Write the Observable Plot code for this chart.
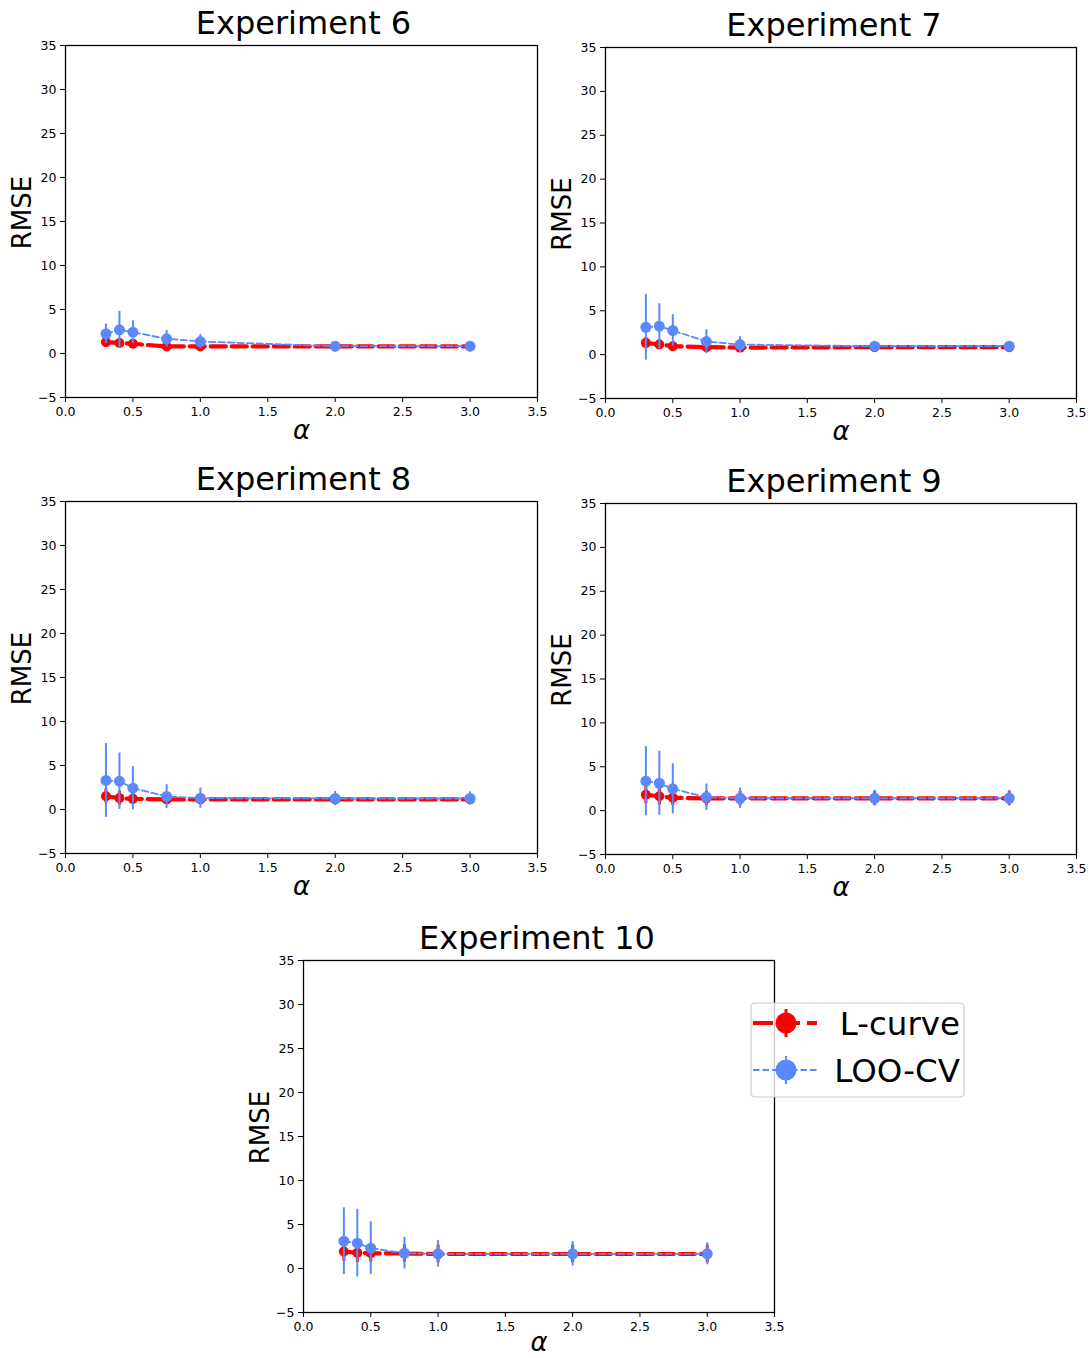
<!DOCTYPE html>
<html><head><meta charset="utf-8">
<script src="https://cdn.jsdelivr.net/npm/d3@7"></script>
<script src="https://cdn.jsdelivr.net/npm/@observablehq/plot@0.6"></script>
<style>
body{margin:0;background:#fff;font-family:"DejaVu Sans",sans-serif}
#wrap{position:relative;width:1090px;height:1358px;overflow:hidden;background:#fff}
#wrap > svg, #wrap > div{position:absolute}
</style>
</head><body><div id="wrap"></div>
<script>
// ---- data ----
const alphas = [0.3, 0.4, 0.5, 0.75, 1.0, 2.0, 3.0];
const titles = ["Experiment 6", "Experiment 7", "Experiment 8", "Experiment 9", "Experiment 10"];
const xTicks = [0, 0.5, 1, 1.5, 2, 2.5, 3, 3.5];
const yTicks = [-5, 0, 5, 10, 15, 20, 25, 30, 35];
const seriesNames = ["L-curve", "LOO-CV"];

const lcurveMean = [
  [1.29, 1.20, 1.10, 0.80, 0.80, 0.80, 0.80],
  [1.34, 1.15, 0.96, 0.85, 0.80, 0.85, 0.85],
  [1.51, 1.29, 1.21, 1.14, 1.14, 1.14, 1.14],
  [1.80, 1.64, 1.46, 1.40, 1.40, 1.40, 1.40],
  [1.93, 1.78, 1.74, 1.70, 1.65, 1.65, 1.65]
];
const lcurveErr = [
  [0.30, 0.30, 0.25, 0.25, 0.20, 0.15, 0.15],
  [0.60, 0.50, 0.40, 0.45, 0.40, 0.30, 0.30],
  [0.80, 0.80, 0.60, 0.50, 0.50, 0.50, 0.50],
  [1.00, 1.00, 0.90, 0.80, 0.80, 0.80, 0.80],
  [1.10, 1.10, 1.00, 1.00, 1.00, 1.00, 1.00]
];
const looMean = [
  [2.24, 2.69, 2.42, 1.67, 1.36, 0.83, 0.83],
  [3.12, 3.24, 2.75, 1.49, 1.15, 0.96, 0.96],
  [3.30, 3.22, 2.42, 1.48, 1.29, 1.25, 1.25],
  [3.35, 3.12, 2.48, 1.53, 1.41, 1.41, 1.41],
  [3.10, 2.88, 2.31, 1.74, 1.67, 1.67, 1.67]
];
const looErr = [
  [1.10, 2.10, 1.30, 0.95, 0.80, 0.30, 0.30],
  [3.75, 2.55, 1.80, 1.35, 0.90, 0.40, 0.40],
  [4.20, 3.20, 2.45, 1.35, 1.15, 0.80, 0.75],
  [3.95, 3.65, 2.85, 1.50, 1.15, 0.90, 0.90],
  [3.80, 3.85, 3.00, 1.80, 1.50, 1.40, 1.25]
];

// ---- layout (frame boxes in page pixels) ----
const frames = [
  {fx: 65, fy: 45, fw: 472, fh: 352, tdx: 2, ady: 33, mb: 44},
  {fx: 605, fy: 47, fw: 471, fh: 351, tdx: -7, ady: 33, mb: 44},
  {fx: 65, fy: 501, fw: 472, fh: 352, tdx: 2, ady: 33, mb: 44},
  {fx: 605, fy: 503, fw: 471, fh: 351, tdx: -7, ady: 33, mb: 44},
  {fx: 303, fy: 960, fw: 471, fh: 352, tdx: -2, ady: 30, mb: 46}
];
const RED = "#ff0000", BLUE = "#5b88fc";
const ML = 60, MR = 25, MT = 50;

const wrap = document.getElementById("wrap");

function rows(means, errs) {
  return alphas.map((a, i) => ({alpha: a, mean: means[i], lo: means[i] - errs[i], hi: means[i] + errs[i]}));
}

titles.forEach((title, k) => {
  const f = frames[k];
  const L = rows(lcurveMean[k], lcurveErr[k]);
  const C = rows(looMean[k], looErr[k]);
  const chart = Plot.plot({
    width: ML + f.fw + MR,
    height: MT + f.fh + f.mb,
    marginLeft: ML, marginRight: MR, marginTop: MT, marginBottom: f.mb,
    x: {domain: [0, 3.5], ticks: xTicks, tickFormat: d3.format(".1f"), tickSize: 5, tickPadding: 5, label: null},
    y: {domain: [-5, 35], ticks: yTicks, tickFormat: d3.format("d"), tickSize: 5, tickPadding: 4, label: null},
    style: {fontFamily: "DejaVu Sans", fontSize: "12.5px", background: "none", overflow: "visible", color: "black"},
    marks: [
      Plot.frame({stroke: "black", strokeWidth: 1.3}),
      Plot.line(L, {x: "alpha", y: "mean", stroke: RED, strokeWidth: 4.2, strokeDasharray: "15,6"}),
      Plot.ruleX(L, {x: "alpha", y1: "lo", y2: "hi", stroke: RED, strokeWidth: 3}),
      Plot.dot(L, {x: "alpha", y: "mean", r: 5, fill: RED, stroke: "none"}),
      Plot.line(C, {x: "alpha", y: "mean", stroke: BLUE, strokeWidth: 1.8, strokeDasharray: "6.5,3"}),
      Plot.ruleX(C, {x: "alpha", y1: "lo", y2: "hi", stroke: BLUE, strokeWidth: 2}),
      Plot.dot(C, {x: "alpha", y: "mean", r: 5.5, fill: BLUE, stroke: "none"}),
      Plot.text([title], {frameAnchor: "top", lineAnchor: "middle", textAnchor: "middle", dx: f.tdx, dy: -22, fontSize: 32, fill: "black"}),
      Plot.text(["RMSE"], {frameAnchor: "left", textAnchor: "middle", lineAnchor: "middle", dx: -43, dy: -9, rotate: -90, fontSize: 26, fill: "black"}),
      Plot.text(["α"], {frameAnchor: "bottom", lineAnchor: "middle", textAnchor: "middle", dy: f.ady, fontSize: 26, fontStyle: "italic", fill: "black"})
    ]
  });
  chart.style.left = (f.fx - ML) + "px";
  chart.style.top = (f.fy - MT) + "px";
  wrap.appendChild(chart);
});

// ---- legend (on top of the last panel) ----
const lg = d3.create("svg").attr("width", 225).attr("height", 110)
  .style("left", "745px").style("top", "995px").style("position", "absolute").style("overflow", "visible");
lg.append("rect").attr("x", 6).attr("y", 8).attr("width", 213).attr("height", 94).attr("rx", 4)
  .attr("fill", "white").attr("fill-opacity", 0.8).attr("stroke", "#cccccc").attr("stroke-width", 1.2);
const entries = [
  {name: seriesNames[0], color: RED, lw: 4.2, dash: "20,7", y: 28},
  {name: seriesNames[1], color: BLUE, lw: 1.8, dash: "6.5,3", y: 75}
];
entries.forEach(e => {
  const g = lg.append("g");
  g.append("line").attr("x1", 8).attr("x2", 72).attr("y1", e.y).attr("y2", e.y)
    .attr("stroke", e.color).attr("stroke-width", e.lw).attr("stroke-dasharray", e.dash);
  g.append("line").attr("x1", 41).attr("x2", 41).attr("y1", e.y - 14).attr("y2", e.y + 14)
    .attr("stroke", e.color).attr("stroke-width", e.lw > 3 ? 3 : 2);
  g.append("circle").attr("cx", 41).attr("cy", e.y).attr("r", 10.5).attr("fill", e.color);
  g.append("text").attr("x", 215).attr("y", e.y).attr("dy", "0.36em").attr("text-anchor", "end")
    .attr("font-family", "DejaVu Sans").attr("font-size", 32.5).attr("fill", "black").text(e.name);
});
wrap.appendChild(lg.node());
</script>
</body></html>
